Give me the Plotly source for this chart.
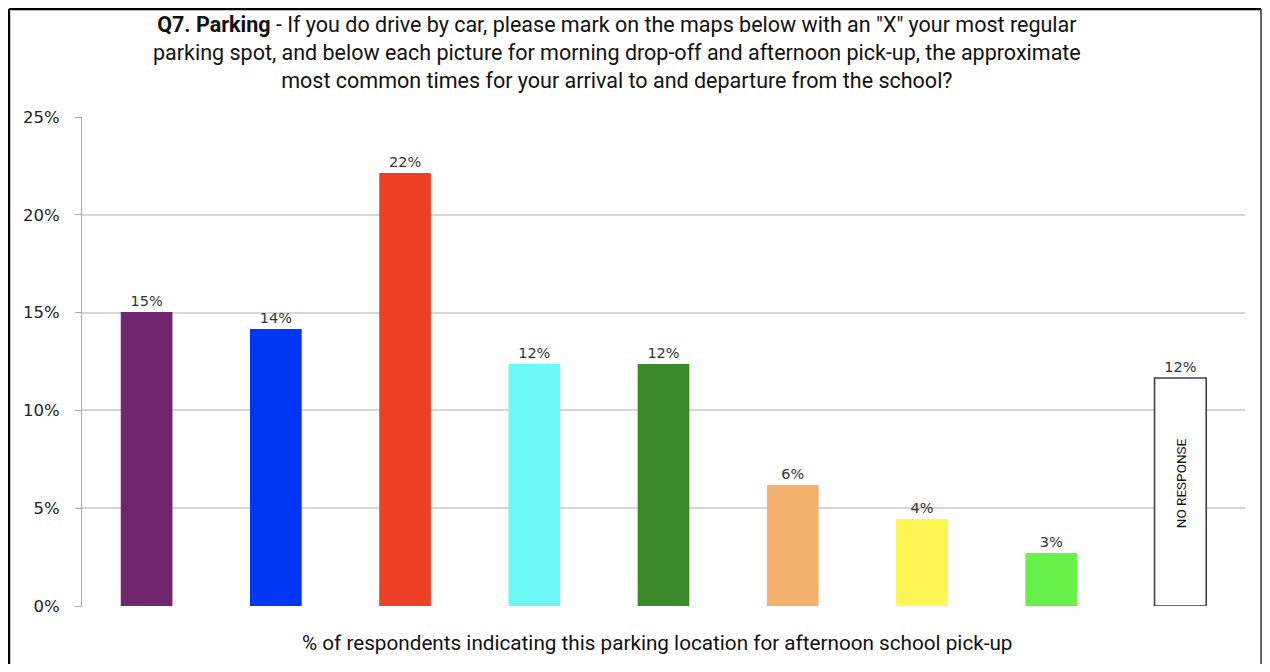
import plotly.graph_objects as go

# values (fraction of respondents)
locations = ["Loc 1", "Loc 2", "Loc 3", "Loc 4", "Loc 5", "Loc 6", "Loc 7", "Loc 8", "No response"]
shares = [0.1503, 0.1416, 0.2214, 0.1237, 0.1237, 0.0619, 0.0445, 0.0271, 0.1166]
bar_colors = ["#70266f", "#0037f5", "#ec4127", "#6cf8f4", "#3a8a2b",
              "#f4b16d", "#fdf552", "#69f14b", "#ffffff"]
outline_widths = [0, 0, 0, 0, 0, 0, 0, 0, 1.6]
y_ticks = [0, 0.05, 0.10, 0.15, 0.20, 0.25]

TITLE = ("<b>Q7. Parking</b> - If you do drive by car, please mark on the maps below with an \"X\" your most regular<br>"
         "parking spot, and below each picture for morning drop-off and afternoon pick-up, the approximate<br>"
         "most common times for your arrival to and departure from the school?")
X_TITLE = "% of respondents indicating this parking location for afternoon school pick-up"

TEXT_FONT = "Roboto, sans-serif"
NUM_FONT = "DejaVu Sans, Verdana, sans-serif"
GRID = "#d6d6d6"

fig = go.Figure()
fig.add_trace(
    go.Bar(
        x=locations,
        y=shares,
        width=0.4,
        marker=dict(color=bar_colors, line=dict(color="#404040", width=outline_widths)),
        texttemplate="%{y:.0%}",
        textposition="outside",
        textfont=dict(family=NUM_FONT, size=14.5, color="#333333"),
        cliponaxis=False,
    )
)

fig.update_xaxes(showticklabels=False, showgrid=False, showline=False, zeroline=False, ticks="")
fig.update_yaxes(
    range=[0, 0.25],
    tickvals=y_ticks,
    tickformat=".0%",
    tickfont=dict(family=NUM_FONT, size=16.5, color="#222222"),
    ticks="outside",
    ticklen=6,
    tickcolor="#a8a8a8",
    ticklabelstandoff=12,
    gridcolor=GRID,
    gridwidth=2,
    zeroline=False,
    showline=True,
    linecolor="#a8a8a8",
    linewidth=1,
)

fig.add_annotation(
    x=0.46, y=1.131, xref="paper", yref="paper", xanchor="center", yanchor="middle",
    text=TITLE, showarrow=False, align="center",
    font=dict(family=TEXT_FONT, size=21.5, color="#111111"),
)
fig.add_annotation(
    x=0.494, y=-0.076, xref="paper", yref="paper", xanchor="center", yanchor="middle",
    text=X_TITLE, showarrow=False,
    font=dict(family=TEXT_FONT, size=20.7, color="#111111"),
)
fig.add_annotation(
    x="No response", y=0.063, text="NO RESPONSE", textangle=-90, showarrow=False,
    xanchor="center", yanchor="middle",
    font=dict(family=TEXT_FONT, size=13.5, color="#111111"),
)

# outer frame of the original picture
fig.add_shape(type="line", xref="paper", yref="paper", x0=-0.0628, x1=-0.0628, y0=-0.2, y1=1.221,
              line=dict(color="black", width=2.5))
fig.add_shape(type="line", xref="paper", yref="paper", x0=-0.0628, x1=1.0138, y0=1.221, y1=1.221,
              line=dict(color="black", width=2.5))
fig.add_shape(type="line", xref="paper", yref="paper", x0=1.0138, x1=1.0138, y0=-0.2, y1=1.221,
              line=dict(color="#333333", width=1.5))

fig.update_layout(
    width=1254,
    height=656,
    margin=dict(l=74, r=17, t=109, b=58),
    paper_bgcolor="white",
    plot_bgcolor="white",
    showlegend=False,
    bargap=0.6,
)

fig.write_html("out.html")
